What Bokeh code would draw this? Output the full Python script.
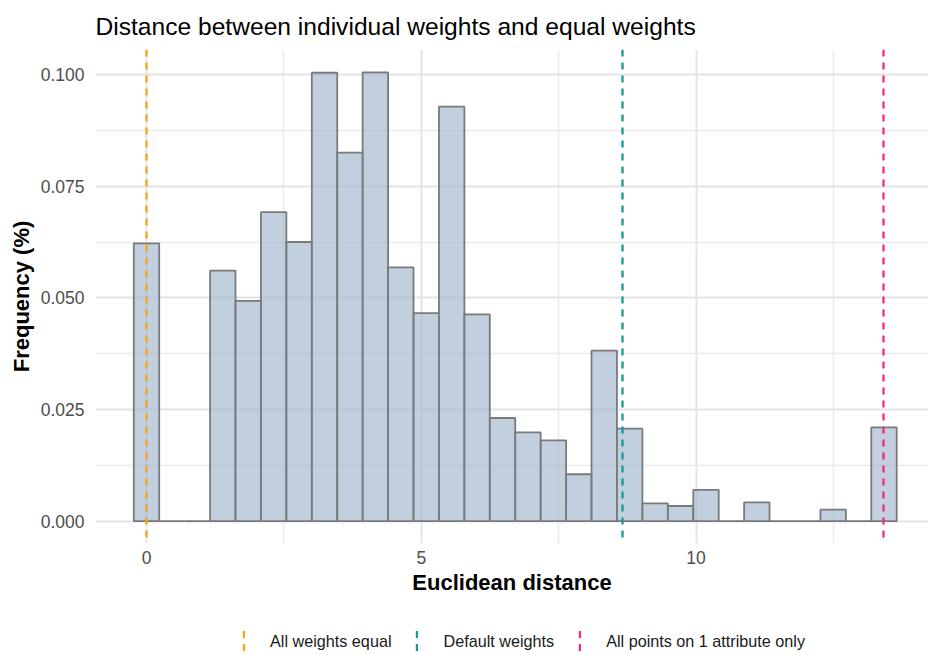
from bokeh.plotting import figure
from bokeh.layouts import column
from bokeh.models import (ColumnDataSource, FixedTicker, NumeralTickFormatter,
                          Range1d, Legend, LegendItem)
from bokeh.embed import file_html
from bokeh.resources import INLINE

# ---- data ----
bin_centers = [0.000, 0.463, 0.926, 1.388, 1.851, 2.314, 2.777, 3.240, 3.702, 4.165,
               4.628, 5.091, 5.554, 6.016, 6.479, 6.942, 7.405, 7.868, 8.330, 8.793,
               9.256, 9.719, 10.182, 10.644, 11.107, 11.570, 12.033, 12.496, 12.958, 13.421]
frequency = [0.0622, 0.0, 0.0, 0.0561, 0.0493, 0.0692, 0.0625, 0.1004, 0.0825, 0.1005,
             0.0568, 0.0466, 0.0928, 0.0463, 0.0231, 0.0199, 0.0181, 0.0105, 0.0382, 0.0207,
             0.0040, 0.0034, 0.0070, 0.0, 0.0042, 0.0, 0.0, 0.0026, 0.0, 0.0210]
bin_width = 0.4628

ref_names = ["All weights equal", "Default weights", "All points on 1 attribute only"]
ref_distance = [0.0, 8.66, 13.42]
ref_colors = ["#F7A416", "#149A9A", "#EE2A8E"]

x_ticks = [0, 5, 10]
x_minor = [2.5, 7.5, 12.5]
y_ticks = [0.0, 0.025, 0.05, 0.075, 0.1]
y_minor = [0.0125, 0.0375, 0.0625, 0.0875]

FONT = "Liberation Sans"

p = figure(width=928, height=600, output_backend="svg", toolbar_location=None,
           x_range=Range1d(-0.928, 14.231), y_range=Range1d(-0.005, 0.1056),
           min_border_left=95, min_border_right=0, min_border_top=49,
           min_border_bottom=57, outline_line_color=None,
           background_fill_color="white", border_fill_color="white")

# title
p.title.text = "Distance between individual weights and equal weights"
p.title.text_font = FONT
p.title.text_font_size = "24.6px"
p.title.text_font_style = "normal"
p.title.text_color = "black"
p.title.align = "left"
p.title.standoff = 19

# histogram bars
src = ColumnDataSource(dict(x=bin_centers, top=frequency))
p.vbar(x="x", top="top", bottom=0, width=bin_width, source=src,
       fill_color="#A2B5CD", fill_alpha=0.65, line_color="#7A7A7A", line_width=1.8)

# reference lines
for xv, col in zip(ref_distance, ref_colors):
    p.vspan(x=[xv], line_color=col, line_width=2.3, line_dash="7 6")

# axes
for ax in (p.xaxis[0], p.yaxis[0]):
    ax.axis_line_color = None
    ax.major_tick_line_color = None
    ax.minor_tick_line_color = None
    ax.major_tick_out = 0
    ax.minor_tick_out = 0
    ax.major_tick_in = 0
    ax.minor_tick_in = 0
    ax.major_label_text_font = FONT
    ax.major_label_text_font_size = "17.5px"
    ax.major_label_text_color = "#4D4D4D"
    ax.axis_label_text_font = FONT
    ax.axis_label_text_font_size = "22px"
    ax.axis_label_text_font_style = "bold"
    ax.axis_label_text_color = "black"

p.xaxis.ticker = FixedTicker(ticks=x_ticks, minor_ticks=x_minor)
p.yaxis.ticker = FixedTicker(ticks=y_ticks, minor_ticks=y_minor)
p.yaxis.formatter = NumeralTickFormatter(format="0.000")
p.xaxis.axis_label = "Euclidean distance"
p.yaxis.axis_label = "Frequency (%)"
p.xaxis.major_label_standoff = 7
p.yaxis.major_label_standoff = 11
p.xaxis.axis_label_standoff = 3
p.yaxis.axis_label_standoff = 4

# grid
for g in (p.xgrid[0], p.ygrid[0]):
    g.grid_line_color = "#E4E4E4"
    g.grid_line_width = 2
    g.minor_grid_line_color = "#EBEBEB"
    g.minor_grid_line_width = 1.6

# ---- legend strip below the plot (vertical dashed keys) ----
lg = figure(width=928, height=55, output_backend="svg", toolbar_location=None,
            x_range=Range1d(0, 1), y_range=Range1d(0, 1),
            x_axis_location=None, y_axis_location=None,
            min_border_left=0, min_border_right=0, min_border_top=0,
            min_border_bottom=0, outline_line_color=None,
            background_fill_color="white", border_fill_color="white")
lg.xgrid.visible = False
lg.ygrid.visible = False
items = []
for name, col in zip(ref_names, ref_colors):
    key = lg.vbar(x=[0.5], top=[0.5], bottom=0, width=0.01, fill_color=None,
                  line_color=None, hatch_pattern="horizontal_line",
                  hatch_color=col, hatch_weight=7, hatch_scale=13, visible=False)
    items.append(LegendItem(label=name, renderers=[key]))

legend = Legend(items=items, orientation="horizontal", location=(147, 0),
                border_line_color=None, background_fill_alpha=0,
                label_text_font=FONT, label_text_font_size="16.2px",
                label_text_color="#1a1a1a", glyph_width=3, glyph_height=28,
                label_standoff=25, spacing=24, padding=0, margin=0,
                inactive_fill_alpha=0)
lg.add_layout(legend, "center")

layout = column(p, lg, spacing=0)
open("out.html", "w").write(file_html(layout, INLINE))
